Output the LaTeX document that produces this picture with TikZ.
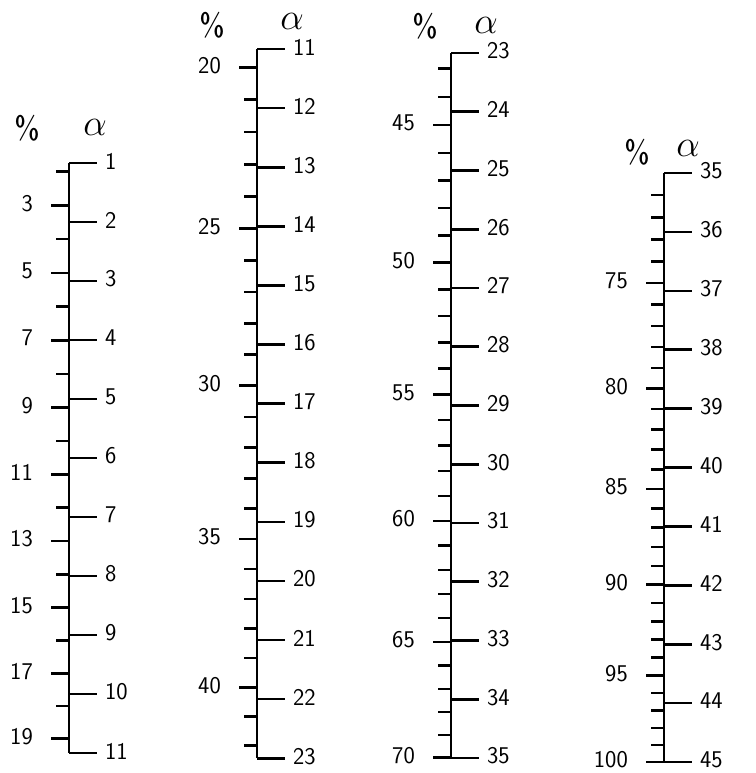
\documentclass[tikz,border=0pt]{standalone}
\usepackage{amsmath}
\usepackage{tikz}
\usetikzlibrary{positioning}

\begin{document}
\begin{tikzpicture}[x=1pt, y=-1pt,
    scaleline/.style={line width=2.6pt},
    num/.style={font=\sffamily\fontsize{24}{26}\selectfont, inner sep=0pt},
    head/.style={font=\sffamily\fontsize{24}{26}\selectfont, inner sep=0pt}]

    \useasboundingbox (0,0) rectangle (755,773);

    % column / x of axis / y of first alpha / first alpha / last alpha / pt per degree / first % / last % / label offset / label step
    \foreach \col/\x/\ya/\a/\b/\k/\pa/\pb/\off/\st in
        {1/69/163/1/11/59/2/19/1/2,
         2/257/49/11/23/59.1/20/42/0/5,
         3/451/53/23/35/58.75/43/70/0/5,
         4/664/173/35/45/58.9/71/100/0/5}{
        % axis
        \draw[scaleline] (\x,\ya) -- (\x,{\ya+(\b-\a)*\k});
        % alpha ticks to the right
        \foreach \t in {\a,...,\b}{
            \pgfmathsetmacro\yy{\ya+(\t-\a)*\k}
            \draw[scaleline] (\x,\yy) -- ++(28,0);
            \node[num, anchor=west] (a\col-\t) at (\x+36,\yy-2) {\t};
        }
        % percent ticks to the left, p = 100 tan(alpha)
        \foreach \p in {\pa,...,\pb}{
            \pgfmathsetmacro\yp{\ya+(atan(\p/100)-\a)*\k}
            \pgfmathtruncatemacro\lab{mod(\p-\off,\st)==0}
            \ifnum\lab=1
                \draw[scaleline] (\x,\yp) -- ++(-18,0);
                \node[num, anchor=east] (p\col-\p) at (\x-36,\yp-2) {\p};
            \else
                \draw[scaleline] (\x,\yp) -- ++(-13,0);
            \fi
        }
    }

    % headings
    \node[head] (pc1) at (27,128) {\scalebox{1.35}{\%}};
    \node[head] (al1) at (95,127) {\scalebox{1.5}{$\alpha$}};
    \node[head] (pc2) at (212,25) {\scalebox{1.35}{\%}};
    \node[head] (al2) at (292,21) {\scalebox{1.5}{$\alpha$}};
    \node[head] (pc3) at (425,26) {\scalebox{1.35}{\%}};
    \node[head] (al3) at (486,25) {\scalebox{1.5}{$\alpha$}};
    \node[head] (pc4) at (637,152) {\scalebox{1.35}{\%}};
    \node[head] (al4) at (688,148) {\scalebox{1.5}{$\alpha$}};
\end{tikzpicture}
\end{document}
